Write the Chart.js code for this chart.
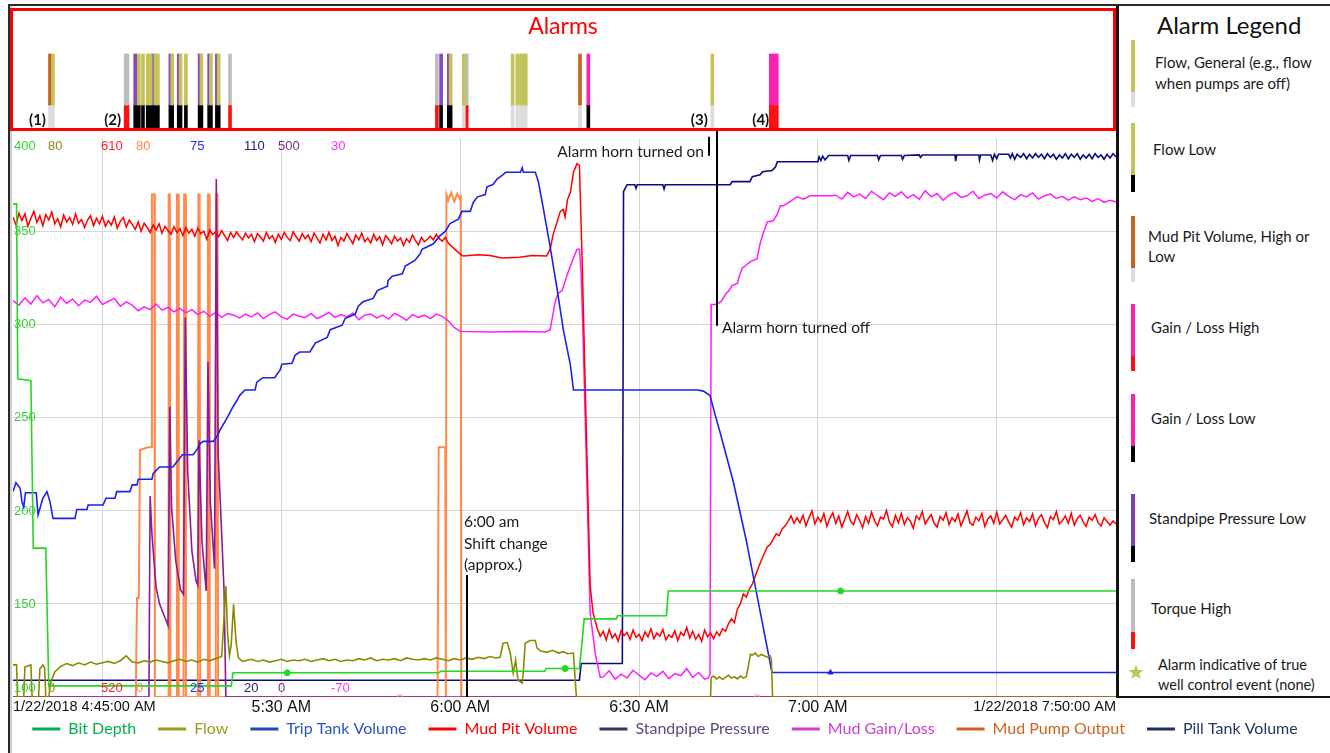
<!DOCTYPE html>
<html>
<head>
<meta charset="utf-8">
<title>Alarms</title>
<script src="https://cdn.jsdelivr.net/npm/chart.js"></script>
<style>
  html, body { margin: 0; padding: 0; background: #fff; }
  body { position: relative; width: 1330px; height: 753px; overflow: hidden; font-family: Lato, "Open Sans", sans-serif; color: #1a1a1a; }
  .abs { position: absolute; }
  #frameGray { left: 10px; top: 6px; width: 2px; height: 747px; background: #cfcfcf; }
  #alarmBox { left: 10px; top: 8px; width: 1106px; height: 123px; border: 3px solid #ff0000; box-sizing: border-box; }
  #alarmTitle { left: 10px; top: 10px; width: 1106px; text-align: center; color: #ff0000; font-size: 23px; line-height: 30px; }
  #legendPanel { left: 1116px; top: 5px; width: 214px; height: 693px; border-left: 3px solid #111; border-bottom: 2px solid #111; box-sizing: border-box; background: #fff; }
  #legendTitle { left: 1157px; top: 10px; font-size: 24px; line-height: 30px; color: #111; }
  .lbar { position: absolute; left: 1131px; width: 4px; }
  .ltxt { position: absolute; font-size: 15px; line-height: 21px; white-space: nowrap; }
  #frameTop { left: 8px; top: 4px; width: 1322px; height: 2px; background: #2a2a2a; }
  #frameLeft { left: 8px; top: 4px; width: 2px; height: 749px; background: #2a2a2a; }
</style>
</head>
<body>
<div id="frameGray" class="abs"></div>
<canvas id="main" class="abs" style="left:0;top:130px" width="1330" height="637"></canvas>
<canvas id="alarms" class="abs" style="left:13px;top:11px" width="1103" height="117"></canvas>
<div id="alarmBox" class="abs"></div>
<div id="alarmTitle" class="abs">Alarms</div>

<div id="legendPanel" class="abs"></div>
<div id="legendTitle" class="abs">Alarm Legend</div>

<div class="lbar" style="top:40px;height:52px;background:#c3c35a"></div>
<div class="lbar" style="top:92px;height:15px;background:#dcdcdc"></div>
<div class="ltxt" style="left:1155px;top:52px">Flow, General (e.g., flow<br>when pumps are off)</div>

<div class="lbar" style="top:123px;height:52px;background:#c3c35a"></div>
<div class="lbar" style="top:175px;height:17px;background:#000"></div>
<div class="ltxt" style="left:1153px;top:139px">Flow Low</div>

<div class="lbar" style="top:216px;height:52px;background:#c5651e"></div>
<div class="lbar" style="top:268px;height:14px;background:#dcdcdc"></div>
<div class="ltxt" style="left:1148px;top:226px;line-height:20px">Mud Pit Volume, High or<br>Low</div>

<div class="lbar" style="top:304px;height:52px;background:#ff1fb0"></div>
<div class="lbar" style="top:356px;height:15px;background:#ff1010"></div>
<div class="ltxt" style="left:1151px;top:317px">Gain / Loss High</div>

<div class="lbar" style="top:394px;height:52px;background:#ff1fb0"></div>
<div class="lbar" style="top:446px;height:16px;background:#000"></div>
<div class="ltxt" style="left:1151px;top:408px">Gain / Loss Low</div>

<div class="lbar" style="top:494px;height:52px;background:#7f3fb0"></div>
<div class="lbar" style="top:546px;height:16px;background:#000"></div>
<div class="ltxt" style="left:1149px;top:508px">Standpipe Pressure Low</div>

<div class="lbar" style="top:579px;height:53px;background:#bcbcbc"></div>
<div class="lbar" style="top:632px;height:17px;background:#ff1010"></div>
<div class="ltxt" style="left:1151px;top:598px">Torque High</div>

<div class="ltxt" style="left:1127px;top:659px;font-size:20px;line-height:24px;color:#c3c35a">&#9733;</div>
<div class="ltxt" style="left:1158px;top:655px;font-size:14.5px;line-height:20px">Alarm indicative of true<br>well control event (none)</div>

<div id="frameTop" class="abs"></div>
<div id="frameLeft" class="abs"></div>

<script>
// time axis in minutes after 4:45:00 AM
const tickMinutes = [0, 15, 45, 75, 105, 135, 165, 185];
const tickLabels = ['1/22/2018 4:45:00 AM', '', '5:30 AM', '6:00 AM', '6:30 AM', '7:00 AM', '', '1/22/2018 7:50:00 AM'];

const seriesNames = ['Bit Depth', 'Flow', 'Trip Tank Volume', 'Mud Pit Volume', 'Standpipe Pressure', 'Mud Gain/Loss', 'Mud Pump Output', 'Pill Tank Volume'];

// every series has its own range, printed at the top and bottom of the plot
const rangeOrder = ['bit', 'flow', 'pit', 'pump', 'trip', 'pill', 'spp', 'gain'];
const rangeMin = [100, 0, 520, 0, 25, 20, 0, -70];
const rangeMax = [400, 80, 610, 80, 75, 110, 500, 30];

// ---- series: [minute, value] ----
const bitDepth = [[0,365],[0.6,365],[0.8,271],[3.0,270],[3.4,180],[5.5,180],[6.0,106],[36.6,106],[36.9,113],[71.5,113],[71.7,113.8],[89.2,113.8],[89.4,115.3],[95.0,115.3],[95.4,128],[95.8,142],[101.2,142],[101.4,143.7],[109.6,143.7],[109.9,157],[185,157]];
const bitDepthMarks = [[46.0,113],[92.6,115.3],[138.8,157]];

const flowStart = [[0,4.6],[0.6,4.6],[0.75,0],[1.8,0],[2.0,4.3],[3.0,4.6],[3.2,0],[4.3,0],[4.5,4.0],[5.0,4.6],[5.3,4.2],[5.5,0],[6.0,0],[6.3,2.0],[7.0,3.6]];
const flowRunA = [4.4,4.8,4.5,4.9,4.6,5.0,4.7,4.9,5.1,4.8, 5.2,5.9,5.0,4.9,5.2,5.0,5.3,5.1,4.9,5.2, 5.4,5.1,5.3,5.0,5.4,5.2,5.5]; // 8..34 every 1
const flowSpike = [[35.0,5.8],[35.4,11.5],[35.7,15.9],[36.0,9.0],[36.3,5.9],[36.6,7.5],[37.0,13.3],[37.4,8.0],[37.8,5.6],[38.5,5.1]];
const flowRunB = [5.2,5.4,5.1,5.3,5.0,5.2,5.4,5.1,5.3,5.2, 5.4,5.1,5.3,5.5,5.2,5.4,5.1,5.3,5.2,5.5, 5.3,5.6,5.2,5.4,5.3,5.5,5.2,5.6,5.4,5.3, 5.5,5.3,5.6,5.4,5.2,5.5,5.3,5.6,5.4,5.7, 5.5,5.8,5.6]; // 39..81 every 1
const flowMid = [[81.7,5.7],[82.2,7.7],[82.9,7.8],[83.4,6.3],[83.9,3.4],[84.3,5.3],[84.7,2.4],[85.4,2.0],[85.6,3.6],[85.9,7.7],[86.7,8.1],[87.6,8.1],[87.9,7.0],[88.5,6.6],[89.6,6.4],[90.5,6.7],[91.5,6.3],[92.3,6.5],[93.0,6.2],[94.0,6.3],[94.3,2.4],[94.5,0],[117.0,0],[117.1,2.8]];
const flowRunC = [3.0,2.6,2.9,2.5,2.8,3.1,2.7,2.9,2.6,3.0,2.7,2.9]; // 117.5..123 every 0.5
const flowRunD = [6.0,6.3,5.8,6.1,5.9,5.7,5.9]; // 124..127 every 0.5
const flowEnd = [[127.2,5.4],[127.4,0],[185,0]];

const tripTank = [[0,43.4],[0.5,44.2],[1.2,43.7],[1.5,42.5],[1.8,42.0],[2.1,43.3],[3.9,43.3],[4.2,41.3],[5.0,42.8],[5.7,43.4],[6.2,42.5],[6.5,41.6],[6.7,41.0],[10.4,41.0],[10.7,41.8],[12.4,41.8],[12.6,42.2],[15.1,42.2],[15.6,42.8],[17.1,42.8],[17.4,43.4],[19.6,43.4],[20.0,44.0],[20.8,44.0],[21.0,44.5],[23.3,44.5],[23.5,45.0],[24.2,45.4],[24.6,45.6],[26.8,45.6],[27.7,46.2],[28.4,46.7],[30.2,46.7],[30.9,47.2],[31.4,47.7],[31.9,47.9],[33.6,47.9],[34.4,48.5],[34.7,48.9],[35.7,49.8],[36.4,50.5],[36.9,51.0],[37.6,51.6],[38.0,52.0],[38.9,52.5],[40.6,52.5],[40.9,53.2],[41.9,53.6],[43.9,53.6],[44.8,54.3],[45.1,54.8],[46.8,54.9],[47.3,55.6],[48.1,55.9],[49.8,55.9],[50.7,56.7],[52.7,57.2],[53.2,57.9],[55.2,58.3],[55.7,58.9],[57.4,59.3],[57.9,60.0],[58.7,60.4],[60.4,60.7],[61.1,61.4],[62.8,61.8],[62.9,62.3],[63.6,62.7],[65.3,62.9],[65.8,63.6],[67.4,64.1],[68.3,64.7],[68.6,65.1],[70.5,65.6],[71.6,66.3],[72.5,66.7],[73.3,67.4],[74.7,67.8],[75.3,68.5],[76.7,68.5],[77.2,69.3],[77.9,69.8],[79.2,70.0],[79.5,70.7],[80.5,70.9],[81.2,71.4],[82.2,71.8],[82.6,72.0],[85.1,72.0],[85.4,72.4],[85.6,72.0],[87.6,72.0],[88.1,71.2],[88.9,68.9],[90.1,65.3],[91.3,61.4],[92.3,57.9],[93.5,54.7],[94.0,52.5],[114.8,52.5],[115.8,52.4],[116.9,52.0],[117.8,50.2],[118.6,48.7],[120.8,44.3],[123.0,39.0],[125.3,32.7],[127.3,27.2],[185,27.2]];
const tripTankMarks = [[137.1,27.2]];

const mudPitRunA = [ // 0..72.5 every 0.5
  597.4,596.1,598.0,596.8,597.9,595.9,597.2,598.3,596.5,597.6,
  596.0,597.8,596.9,598.2,596.3,597.1,595.8,597.7,596.6,597.3,
  596.2,597.9,596.4,597.0,595.7,596.9,597.6,596.0,597.2,596.3,
  597.5,595.9,596.8,596.1,597.4,595.6,596.7,597.3,595.8,596.9,
  596.2,595.4,596.6,595.1,596.4,595.7,594.9,596.1,595.3,596.3,
  594.8,595.9,595.2,594.6,595.8,594.9,595.5,594.4,595.7,594.8,
  595.4,594.3,595.6,594.7,595.1,593.8,595.3,594.6,595.0,594.2,
  595.2,594.4,593.6,594.9,594.1,595.0,594.3,593.7,594.8,594.0,
  594.6,593.4,594.7,594.2,593.5,594.9,593.9,594.4,593.3,594.6,
  593.8,594.9,594.1,593.6,595.0,594.2,593.5,594.7,593.9,594.5,
  593.4,594.8,594.0,593.2,594.6,593.7,594.9,593.6,594.3,592.8,
  594.1,593.5,594.7,593.9,593.1,594.5,593.7,594.8,593.4,594.0,
  593.2,594.6,593.6,594.2,592.9,594.4,593.8,593.1,594.3,593.5,
  594.0,592.8,593.9,593.3,594.5,593.6,592.9,594.1,593.4,593.8,
  594.3,593.7,594.6,593.9,593.5,594.1];
const mudPitPeak = [[73,593.2],[74,592.3],[75,591.4],[75.5,591.1],[78,591.3],[80,591.2],[82,590.8],[85,590.9],[87,591.2],[89.5,591.1],[90.1,592.2],[90.6,594.6],[91.3,596.7],[91.8,598.3],[92.3,598.6],[92.6,597.4],[93.0,600.2],[93.5,601.4],[94.0,604.6],[94.6,606.0],[95.0,605.7],[95.5,589],[96.1,565],[96.8,538.0],[97.3,533.5],[98.0,531.0]];
const mudPitRunC = [ // 98.5..118.5 every 0.5
  529.8,530.6,529.2,530.9,529.5,530.2,529.0,530.7,529.9,530.4,
  529.3,530.8,529.6,530.1,529.1,530.5,529.7,531.0,529.4,530.3,
  529.8,530.9,529.2,530.0,529.6,530.7,529.1,530.4,529.9,531.2,
  529.5,530.6,529.3,530.1,529.0,530.8,529.7,530.3,529.4,530.5,
  529.9];
const mudPitRise = [[119,531.0],[119.5,530.6],[120,531.8],[120.5,532.6],[121,532.0],[121.5,534.2],[122,535.0],[122.5,536.6],[123,536.1],[123.5,537.4],[124,538.2],[124.5,539.5],[125,540.8],[125.5,542.0],[126,543.1],[126.5,544.2],[127,544.6],[127.5,545.4],[128,546.3],[128.5,546.0],[129,547.1],[129.5,547.6],[130,548.3],[130.5,549.2],[131,548.0],[131.5,548.9]];
const mudPitRunD = [ // 132..185 every 0.5
  548.1,549.3,547.6,548.9,550.0,547.9,549.0,548.2,549.6,547.5,
  548.8,549.7,548.0,549.2,547.4,548.6,549.9,548.3,547.8,549.4,
  548.5,547.3,549.1,548.0,549.8,548.4,547.6,549.0,548.7,550.1,
  548.2,547.5,549.3,548.1,549.6,547.8,548.9,548.4,547.2,549.2,
  548.6,549.9,547.9,548.7,549.4,548.0,547.4,549.1,548.5,549.7,
  547.8,548.9,548.3,549.5,547.6,548.8,550.0,548.1,547.7,549.0,
  548.4,549.6,547.5,548.7,549.2,548.0,549.8,547.9,548.6,549.3,
  548.2,547.4,549.0,548.5,549.7,547.8,548.9,548.3,549.5,547.6,
  548.8,549.4,548.1,547.3,549.1,548.6,549.9,547.9,548.4,549.2,
  548.0,549.6,547.7,548.8,549.3,548.2,547.5,549.0,548.5,549.4,
  548.1,547.6,548.9,548.3,547.7,548.4,547.9];

const standpipe = [[0,0],[22.8,0],[23.0,180],[23.3,146],[24.0,98],[24.6,83],[25.5,71],[26.0,64],[26.3,260],[26.6,170],[27.3,122],[28.1,96],[28.6,92],[28.9,340],[29.3,202],[30.0,131],[30.7,104],[31.0,100],[31.2,230],[31.7,139],[32.4,95],[32.7,300],[33.1,175],[33.8,115],[34.1,464],[34.4,219],[35.0,146],[35.4,95],[35.7,0],[185,0]];

const gainRunA = [ // 0..72 every 1
  1.0,0.2,1.5,0.4,1.9,0.6,1.2,-0.1,1.6,0.5,
  1.3,0.1,1.1,0.7,1.8,0.3,0.9,1.4,0.0,0.8,
  0.2,-0.8,-0.1,-0.6,0.4,-0.7,-0.2,-1.0,-0.4,-1.2,
  -0.6,-1.5,-0.9,-1.8,-1.1,-2.0,-1.3,-1.6,-2.1,-1.4,
  -1.9,-1.2,-2.2,-1.5,-1.0,-1.9,-2.3,-1.4,-1.8,-2.0,
  -1.3,-2.2,-1.7,-1.1,-2.0,-1.5,-1.9,-1.2,-2.4,-1.6,
  -1.4,-2.1,-1.6,-2.3,-1.3,-1.8,-2.5,-1.5,-2.0,-1.6,
  -2.2,-1.4,-1.8];
const gainPeak = [[73,-2.6],[74,-3.8],[75,-4.5],[80,-4.6],[85,-4.5],[89.3,-4.6],[90.1,-4.2],[90.9,0.6],[91.4,2.3],[92.1,2.8],[93.0,5.8],[93.8,8.1],[94.6,10.2],[95.0,10.2],[95.3,5.8],[95.6,-4.8],[96.1,-25],[96.8,-55],[97.7,-62.5],[98.5,-66.5]];
const gainRunC = [-66.4,-65.3,-66.8,-65.9,-66.6,-65.2,-66.1,-66.9,-65.7,-66.3,-65.4,-66.7,-65.8,-66.2,-64.9,-66.5,-65.6,-66.8]; // 99..116 every 1
const gainRise = [[116.6,-66.6],[116.9,-66.0],[117.1,0.3],[118.0,0.3],[118.8,0.9],[119.6,2.3],[120.1,2.8],[120.6,3.7],[121.5,4.1],[121.8,5.3],[122.3,6.8],[122.9,7.3],[123.7,8.0],[124.8,8.5],[125.3,11.2],[125.8,13.0],[126.5,15.1],[127.5,15.3],[128.2,16.5],[128.7,18.0],[129.2,18.0],[130.4,18.8],[131.5,19.6],[132.6,19.2],[133.7,19.8],[135.4,19.8],[137.1,19.8]];
const gainRunE = [ // 138..185 every 1
  19.9,19.2,20.4,19.6,20.1,19.3,20.6,19.8,19.1,20.3,
  19.7,20.5,19.4,20.0,19.2,20.7,19.6,20.2,19.0,19.9,
  20.4,19.5,19.8,20.6,19.3,19.9,20.2,19.4,20.5,19.7,
  19.1,20.0,19.6,20.3,19.2,19.8,20.1,19.3,19.7,19.0,
  19.6,19.1,19.4,18.8,19.3,18.6,19.0,18.7];

const pumpOut = [[0,0],[20.6,0],[20.8,14.2],[21.1,14.2],[21.3,35.4],[22.6,35.8],[23.2,35.8],[23.3,72],[23.7,72],[23.8,0],[26.0,0],[26.1,72],[26.3,72],[26.4,0],[27.4,0],[27.5,72],[27.7,72],[27.8,0],[28.6,0],[28.7,72],[28.9,72],[29.0,0],[31.0,0],[31.1,72],[31.3,72],[31.4,0],[32.6,0],[32.7,72],[32.9,72],[33.0,0],[34.0,0],[34.1,72],[34.3,72],[34.4,0],[71.2,0],[71.4,35.8],[72.5,35.8],[72.6,0],[72.7,72],[73.0,71.2],[73.5,72.3],[74.0,71.0],[74.5,72.1],[75.0,71.3],[75.1,72],[75.2,0],[185,0]];
const pumpOutMarks = [[64.9,0],[124.8,0]];

const pillTank = [[0,22.7],[95.0,22.7],[95.3,25.4],[102.2,25.4],[102.4,101.5],[103.0,102.6],[104.3,102.6],[104.5,102.0],[104.7,102.6],[109.0,102.6],[109.2,101.9],[109.4,102.6],[120.3,102.6],[120.6,103.1],[123.6,103.1],[124.0,103.9],[125.3,104.2],[125.7,104.7],[127.3,104.9],[127.9,105.5],[128.2,106.3],[135.0,106.3],[135.2,107.1],[135.5,106.5],[135.8,107.2],[136.2,106.6],[136.8,107.3],[140,107.3],[140.2,106.5],[140.5,107.3],[145,107.3],[145.2,106.6],[145.5,107.3],[149,107.3],[149.2,106.7],[149.5,107.3],[152,107.4],[152.2,107.0],[152.5,107.4],[158,107.4],[158.1,106.4],[158.3,107.4],[162,107.4],[162.1,106.6],[162.3,107.4],[164,107.4],[164.3,106.5],[164.6,107.5],[165,106.8],[165.3,107.5],[167,107.5],[167.3,106.9],[167.6,107.6],[168,106.7],[168.4,107.5],[169,107.0],[169.5,107.6],[170,106.8],[170.5,107.5],[171,106.9],[171.5,107.6],[172,107.0],[172.5,107.5]];
const pillTankRun = [106.8,107.6,107.0,107.5,106.7,107.4,106.9,107.6,106.8,107.5,107.0,107.6,106.7,107.4,106.9,107.5,106.8,107.6,107.0,107.4,106.7,107.5,106.9,107.6,107.1]; // 173..185 every 0.5

// ---- alarms ----
const alarmMinutes = [6.2, 6.7, 18.9, 19.2, 20.5, 21.1, 21.8, 22.6, 23.1, 23.5, 23.9, 24.3, 26.4, 26.7, 27.8, 28.1, 29.0, 31.3, 31.6, 32.9, 33.2, 34.2, 34.5, 36.4,
  71.1, 71.8, 73.1, 73.4, 75.6, 76.1, 83.8, 84.6, 85.2, 85.6, 86.0, 95.1, 96.5, 117.3, 127.1, 127.6, 128.1];
const alarmKinds = ['pit', 'flowGen', 'torque', 'torque', 'spp', 'flowLow', 'flowLow', 'flowLow', 'flowLow', 'spp', 'flowLow', 'flowLow', 'spp', 'flowLow', 'spp', 'flowLow', 'flowLow', 'spp', 'flowLow', 'spp', 'flowLow', 'spp', 'flowLow', 'torque',
  'torque', 'spp', 'spp', 'flowLow', 'flowGen', 'torque', 'flowGen', 'flowGen', 'flowGen', 'flowGen', 'flowGen', 'pit', 'glLow', 'flowGen', 'glHigh', 'glHigh', 'glHigh'];
const eventLabels = ['(1)', '(2)', '(3)', '(4)'];
const eventMinutes = [5.7, 18.3, 116.7, 127.0];

// annotations
const shiftChangeMin = 76.2;
const hornOnMin = 116.8;
const hornOffMin = 118.1;

// ---- helpers ----
const run = (start, step, vals) => vals.map((v, i) => [start + i * step, v]);
const pts = pairs => pairs.map(p => ({ x: p[0], y: p[1] }));

const flow = [...flowStart, ...run(8, 1, flowRunA), ...flowSpike, ...run(39, 1, flowRunB), ...flowMid, ...run(117.5, 0.5, flowRunC), [123.5,5.2], [123.7,6.1], ...run(124, 0.5, flowRunD), ...flowEnd];
const mudPit = [...run(0, 0.5, mudPitRunA), ...mudPitPeak, ...run(98.5, 0.5, mudPitRunC), ...mudPitRise, ...run(132, 0.5, mudPitRunD)];
const gainLoss = [...run(0, 1, gainRunA), ...gainPeak, ...run(99, 1, gainRunC), ...gainRise, ...run(138, 1, gainRunE)];
const pill = [...pillTank, ...run(173, 0.5, pillTankRun)];

Chart.defaults.font.family = 'Lato, "Open Sans", sans-serif';
const numFont = '"Liberation Sans", Arial, sans-serif';

const legendLineColors = ['#00b050', '#9c9c24', '#2845b5', '#ff0000', '#403060', '#cc3fcc', '#d0641e', '#1f2f60'];
const legendTextColors = ['#00b050', '#9c9c24', '#2e55c0', '#ff0000', '#5f4a7b', '#cc3fcc', '#d0641e', '#1f3864'];
const rangeColors = ['#33d633', '#8b8b1a', '#ff2020', '#ff8848', '#2828ff', '#20207a', '#7a2a8a', '#ff33ff'];
const rangeOffsets = [1, 35, 88, 123, 177, 231, 265, 318];
const X_LABEL_BAND = 22;
const LEGEND_LIFT = 20;

const line = (label, data, axis, color, width) => ({
  label, data: pts(data), yAxisID: axis, borderColor: color, backgroundColor: color,
  borderWidth: width, pointRadius: 0, tension: 0, fill: false
});
const marks = (data, axis, color, style, r) => ({
  label: '', data: pts(data), yAxisID: axis, showLine: false, pointStyle: style,
  pointRadius: r, borderColor: color, backgroundColor: color, borderWidth: 1, order: -1
});

const datasets = [
  line('Bit Depth', bitDepth, 'bit', '#22d822', 1.6),
  line('Flow', flow, 'flow', '#8a8a00', 1.6),
  line('Trip Tank Volume', tripTank, 'trip', '#1a22f0', 1.6),
  line('Mud Pit Volume', mudPit, 'pit', '#ff0000', 1.5),
  line('Standpipe Pressure', standpipe, 'spp', '#8a1a9a', 1.6),
  line('Mud Gain/Loss', gainLoss, 'gain', '#ff1cff', 1.5),
  line('Mud Pump Output', pumpOut, 'pump', 'rgba(255,125,55,0.9)', 2),
  line('Pill Tank Volume', pill, 'pill', '#0c0c80', 1.6),
  marks(bitDepthMarks, 'bit', '#22d822', 'circle', 3),
  marks(tripTankMarks, 'trip', '#1a22f0', 'triangle', 3),
  Object.assign(marks(pumpOutMarks, 'pump', '#ffa070', 'rect', 3), { backgroundColor: 'rgba(255,255,255,0)' })
];

const scales = {
  x: {
    type: 'linear', min: 0, max: 185,
    afterBuildTicks: s => { s.ticks = tickMinutes.map(v => ({ value: v })); },
    afterFit: s => { s.height = X_LABEL_BAND; },
    border: { display: false },
    grid: { drawTicks: false, color: c => (c.tick && (c.tick.value === 0 || c.tick.value === 185)) ? 'rgba(0,0,0,0)' : '#d6d6d6' },
    ticks: {
      autoSkip: false, maxRotation: 0, align: 'inner', padding: 1, color: '#111',
      callback: (v, i) => tickLabels[i],
      font: c => ({ family: numFont, size: (c.index === 0 || c.index === tickLabels.length - 1) ? 14.5 : 16 })
    }
  }
};
rangeOrder.forEach((id, i) => {
  scales[id] = { display: false, min: rangeMin[i], max: rangeMax[i] };
});
Object.assign(scales.bit, {
  display: true, position: 'left',
  afterFit: s => { s.width = 13; },
  border: { display: false },
  grid: { drawTicks: false, color: c => (c.tick.value === 100 || c.tick.value === 400) ? 'rgba(0,0,0,0)' : '#d6d6d6' },
  ticks: { stepSize: 50, mirror: true, padding: 1, color: '#3ccf3c', font: { family: numFont, size: 13 },
           callback: v => (v === 100 || v === 400) ? '' : v }
});
Object.assign(scales.gain, {
  display: true, position: 'right',
  afterFit: s => { s.width = 214; },
  border: { display: false },
  grid: { display: false },
  ticks: { display: false }
});

// min / max of every series axis, written in the plot corners
const rangeLabels = {
  id: 'rangeLabels',
  afterDraw(chart) {
    const { ctx, chartArea } = chart;
    ctx.save();
    ctx.font = '13px ' + numFont;
    ctx.textBaseline = 'middle';
    ctx.textAlign = 'left';
    rangeOrder.forEach((id, i) => {
      const s = chart.scales[id];
      ctx.fillStyle = rangeColors[i];
      const x = chartArea.left + rangeOffsets[i];
      ctx.fillText(String(s.max), x, chartArea.top + 8);
      ctx.fillText(String(s.min), x, chartArea.bottom - 9);
    });
    ctx.restore();
  }
};

// the series legend sits close under the time labels
const legendUp = {
  id: 'legendUp',
  afterLayout(chart) {
    if (chart.legend) {
      chart.legend.top -= LEGEND_LIFT;
      chart.legend.bottom -= LEGEND_LIFT;
    }
  }
};

const notes = {
  id: 'notes',
  afterDatasetsDraw(chart) {
    const { ctx, chartArea: a } = chart;
    const x = chart.scales.x;
    const seg = (x1, y1, x2, y2) => { ctx.beginPath(); ctx.moveTo(x1, y1); ctx.lineTo(x2, y2); ctx.stroke(); };
    ctx.save();
    ctx.strokeStyle = '#000';
    ctx.lineWidth = 2;
    const xs = Math.round(x.getPixelForValue(shiftChangeMin));
    const xOn = Math.round(x.getPixelForValue(hornOnMin));
    const xOff = Math.round(x.getPixelForValue(hornOffMin));
    seg(xs, a.bottom - 122, xs, a.bottom);
    seg(xOn, a.top - 2, xOn, a.top + 17);
    seg(xOff, 0, xOff, a.top + 187);
    ctx.fillStyle = '#1a1a1a';
    ctx.font = '15.5px Lato, "Open Sans", sans-serif';
    ctx.textBaseline = 'middle';
    ctx.textAlign = 'left';
    ctx.fillText('6:00 am', xs - 3, a.bottom - 175);
    ctx.fillText('Shift change', xs - 3, a.bottom - 153);
    ctx.fillText('(approx.)', xs - 3, a.bottom - 132);
    ctx.fillText('Alarm horn turned off', xOff + 5, a.top + 189);
    ctx.textAlign = 'right';
    ctx.fillText('Alarm horn turned on', xOn - 5, a.top + 13);
    ctx.restore();
  }
};

new Chart(document.getElementById('main'), {
  type: 'line',
  data: { datasets },
  options: {
    responsive: false, animation: false, events: [],
    layout: { padding: { left: 0, right: 0, top: 4, bottom: 0 } },
    scales,
    plugins: {
      tooltip: { enabled: false },
      legend: {
        position: 'bottom',
        labels: {
          boxWidth: 28, boxHeight: 3, padding: 22,
          font: { size: 16, family: 'Lato, "Open Sans", sans-serif' },
          generateLabels: () => seriesNames.map((name, i) => ({
            text: name, fillStyle: legendLineColors[i], strokeStyle: legendLineColors[i],
            lineWidth: 0, fontColor: legendTextColors[i], hidden: false, datasetIndex: i
          }))
        }
      }
    }
  },
  plugins: [rangeLabels, legendUp, notes]
});

// ---- alarm strip ----
const ALARM_SPLIT = 23;   // bottom part of an alarm mark
const ALARM_TOP = 74;     // top of an alarm mark
const alarmKindOrder = ['flowGen', 'flowLow', 'pit', 'glHigh', 'glLow', 'spp', 'torque'];
const alarmTopColor = { flowGen: '#c3c35a', flowLow: '#c3c35a', pit: '#c5651e', glHigh: '#ff1fb0', glLow: '#ff1fb0', spp: '#8746c2', torque: '#bcbcbc' };
const alarmBottomColor = { flowGen: '#dcdcdc', flowLow: '#000000', pit: '#dcdcdc', glHigh: '#ff1010', glLow: '#000000', spp: '#000000', torque: '#ff1010' };

const alarmDatasets = [];
alarmKindOrder.forEach(k => {
  const ts = alarmMinutes.filter((t, i) => alarmKinds[i] === k);
  alarmDatasets.push({ data: ts.map(t => ({ x: t, y: [ALARM_SPLIT, ALARM_TOP] })), backgroundColor: alarmTopColor[k], barThickness: 3 });
  alarmDatasets.push({ data: ts.map(t => ({ x: t, y: [0, ALARM_SPLIT] })), backgroundColor: alarmBottomColor[k], barThickness: 3 });
});

const eventMarks = {
  id: 'eventMarks',
  afterDraw(chart) {
    const { ctx } = chart;
    const x = chart.scales.x;
    ctx.save();
    ctx.font = 'bold 15px Lato, "Open Sans", sans-serif';
    ctx.textAlign = 'right';
    ctx.textBaseline = 'middle';
    ctx.fillStyle = '#111';
    eventLabels.forEach((s, i) => ctx.fillText(s, x.getPixelForValue(eventMinutes[i]) - 1, 109));
    ctx.restore();
  }
};

new Chart(document.getElementById('alarms'), {
  type: 'bar',
  data: { datasets: alarmDatasets },
  options: {
    responsive: false, animation: false, events: [],
    layout: { padding: 0 },
    datasets: { bar: { grouped: false } },
    plugins: { legend: { display: false }, tooltip: { enabled: false } },
    scales: {
      x: { type: 'linear', min: 0, max: 185, offset: false, display: false },
      y: { min: 0, max: 117, display: false }
    }
  },
  plugins: [eventMarks]
});
</script>
</body>
</html>
